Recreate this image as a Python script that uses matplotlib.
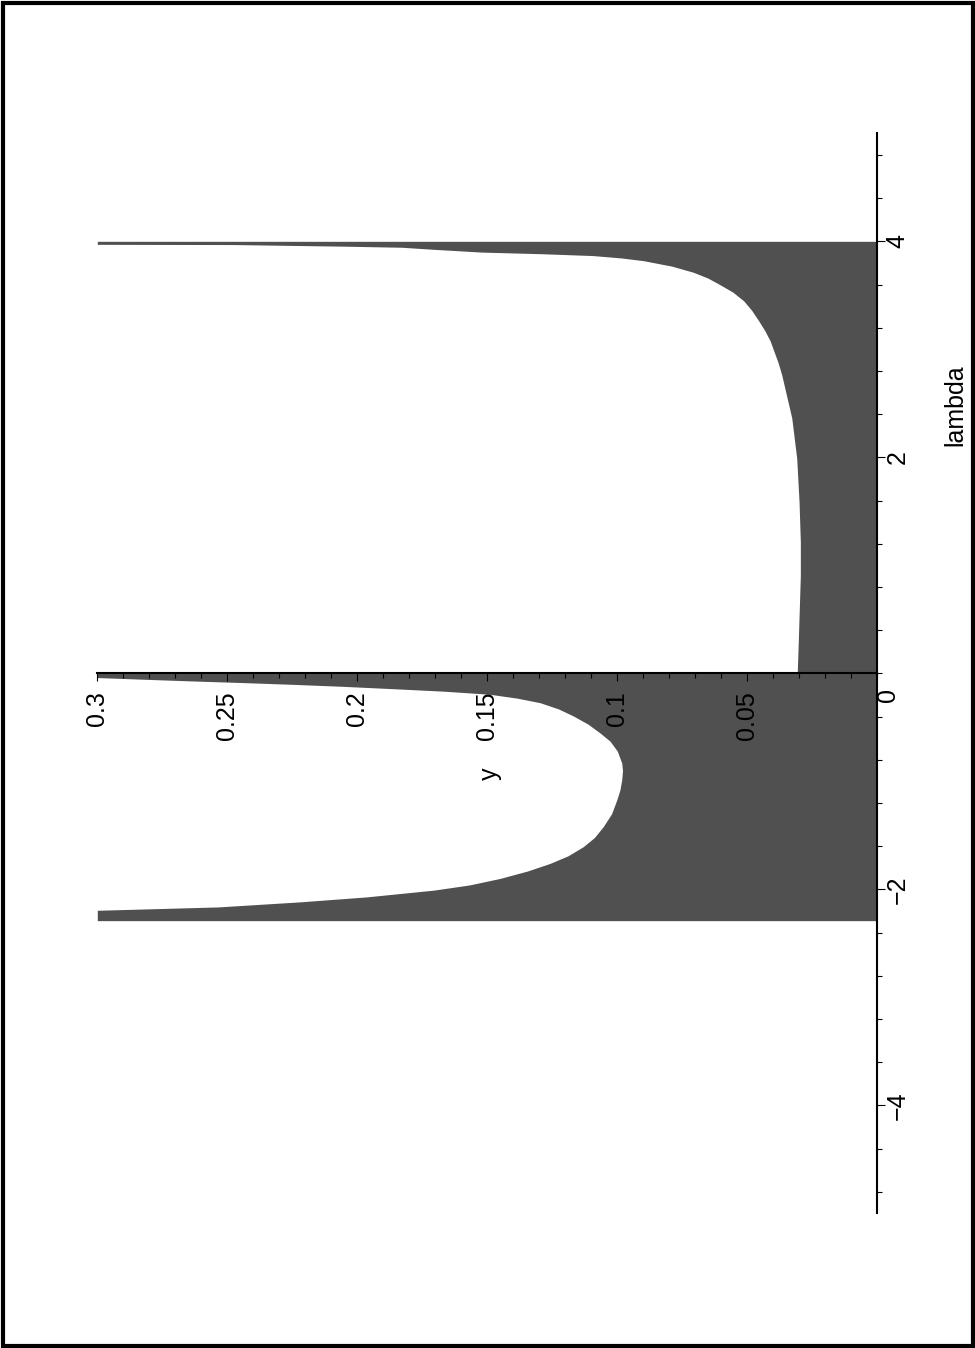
import matplotlib.pyplot as plt
import numpy as np
from matplotlib.patches import Rectangle
from matplotlib.ticker import MultipleLocator, FixedLocator

plt.rcParams['font.family'] = ['Liberation Sans', 'DejaVu Sans']

# boundary of the shaded region (lambda, y)
lam_left = [-2.29, -2.194, -2.163, -2.116, -2.070, -2.008, -1.96, -1.899, -1.83,
            -1.760, -1.69, -1.605, -1.52, -1.419, -1.30, -1.171, -1.08, -0.985,
            -0.90, -0.830, -0.72, -0.628, -0.551, -0.47, -0.395, -0.33, -0.272,
            -0.23, -0.194, -0.165, -0.141, -0.120, -0.101, -0.085, -0.070, -0.055,
            -0.039, 0.0]
y_left = [0.3, 0.3, 0.2536, 0.2220, 0.1964, 0.1708, 0.1570, 0.1451, 0.1345,
          0.1259, 0.1190, 0.1131, 0.1088, 0.1054, 0.1022, 0.1002, 0.0990, 0.0983,
          0.0980, 0.0983, 0.1000, 0.1028, 0.1067, 0.1113, 0.1169, 0.1226, 0.1297,
          0.1385, 0.149, 0.167, 0.1874, 0.2060, 0.2259, 0.2450, 0.2643, 0.2820,
          0.3, 0.3]

lam_right = [0.0, 0.287, 0.596, 0.907, 1.217, 1.589, 1.992, 2.364, 2.767, 2.88,
             2.984, 3.077, 3.17, 3.263, 3.36, 3.449, 3.53, 3.605, 3.66, 3.713,
             3.77, 3.821, 3.846, 3.868, 3.885, 3.90, 3.925, 3.945, 3.955, 3.962,
             3.970, 3.972, 4.0]
y_right = [0.0308, 0.0304, 0.0300, 0.0296, 0.0296, 0.0301, 0.0310, 0.0329, 0.0368, 0.0382,
           0.0398, 0.0412, 0.0432, 0.0456, 0.0483, 0.0514, 0.0556, 0.0610, 0.0652, 0.0707,
           0.0790, 0.0900, 0.0985, 0.1094, 0.1290, 0.1520, 0.1700, 0.1829, 0.2051, 0.2250,
           0.2477, 0.3, 0.3]

y_ticks = [0.05, 0.1, 0.15, 0.2, 0.25, 0.3]
y_ticklabels = ['0.05', '0.1', '0.15', '0.2', '0.25', '0.3']
lam_ticks = [-4, -2, 2, 4]
lam_ticklabels = ['\u22124', '\u22122', '2', '4']

fig = plt.figure(figsize=(9.75, 13.48), dpi=100)
ax = fig.add_axes([0.0998, 0.0999, 0.8, 0.8012])

shade = '#505050'
ax.fill_betweenx(lam_left, 0, y_left, color=shade, lw=0)
ax.fill_betweenx(lam_right, 0, y_right, color=shade, lw=0)

ax.set_xlim(0.3, 0)
ax.set_ylim(-5, 5)

# axes through the origin
ax.spines['left'].set_visible(False)
ax.spines['top'].set_visible(False)
ax.spines['bottom'].set_position(('data', 0))
ax.spines['bottom'].set_linewidth(1.5)
ax.spines['right'].set_linewidth(1.5)

ax.xaxis.set_major_locator(FixedLocator(y_ticks))
ax.set_xticklabels(y_ticklabels)
ax.xaxis.set_minor_locator(MultipleLocator(0.01))
ax.yaxis.tick_right()
ax.yaxis.set_major_locator(FixedLocator(lam_ticks))
ax.set_yticklabels(lam_ticklabels)
ax.yaxis.set_minor_locator(MultipleLocator(0.4))

ax.tick_params(axis='x', which='major', direction='out', length=6, width=0.8,
               labelsize=18, pad=7, labelrotation=90)
ax.tick_params(axis='x', which='minor', direction='out', length=3.5, width=0.8)
ax.tick_params(axis='y', which='major', direction='out', length=6, width=0.8,
               labelsize=18, pad=0, labelrotation=90)
ax.tick_params(axis='y', which='minor', direction='out', length=3.5, width=0.8)
for t in ax.get_yticklabels():
    t.set_va('center')

ax.text(-0.0041, -0.20, '0', rotation=90, fontsize=18, ha='center', va='center', clip_on=False)
ax.text(-0.0299, 2.48, 'lambda', rotation=90, fontsize=18, ha='center', va='center', clip_on=False)
ax.text(0.149, -0.93, 'y', rotation=90, fontsize=18, ha='center', va='center')

# page frame
fig.patches.append(Rectangle((2.5 / 975, 2.5 / 1348), 970 / 975, 1343 / 1348,
                             transform=fig.transFigure, fill=False, ec='black', lw=3))

plt.savefig('out.png', dpi=100)
